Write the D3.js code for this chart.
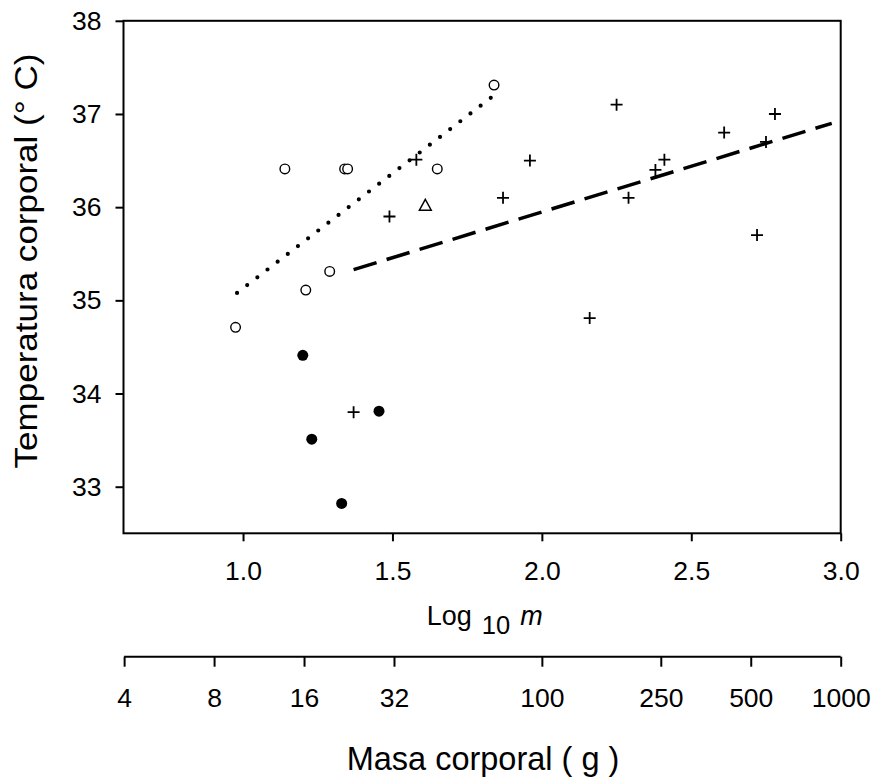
<!DOCTYPE html>
<meta charset="utf-8">
<style>
body { margin: 0; background: #fff; }
text { font-family: "Liberation Sans", Arial, sans-serif; fill: #000; }
.axis line, .axis path { stroke: #000; stroke-width: 2; }
</style>
<svg width="876" height="780"></svg>
<script src="https://cdnjs.cloudflare.com/ajax/libs/d3/7.8.5/d3.min.js"></script>
<script>
// data: [log10 mass, body temperature]
var openCircles = [[0.975, 34.71], [1.14, 36.41], [1.21, 35.11], [1.29, 35.31],
                   [1.34, 36.41], [1.35, 36.41], [1.65, 36.41], [1.84, 37.31]];
var filledCircles = [[1.20, 34.41], [1.23, 33.51], [1.33, 32.82], [1.455, 33.81]];
var triangles = [[1.61, 36.02]];
var crosses = [[1.37, 33.80], [1.49, 35.90], [1.58, 36.51], [1.87, 36.10], [1.96, 36.50],
               [2.16, 34.81], [2.25, 37.10], [2.29, 36.10], [2.38, 36.40], [2.41, 36.51],
               [2.61, 36.80], [2.72, 35.70], [2.75, 36.70], [2.78, 37.00]];
// fitted lines (end points)
var dottedFit = [[0.98, 35.08], [1.84, 37.20]];
var dashedFit = [[1.37, 35.33], [2.97, 36.90]];

var xTicks = [1.0, 1.5, 2.0, 2.5, 3.0];
var yTicks = [33, 34, 35, 36, 37, 38];
var massTicks = [4, 8, 16, 32, 100, 250, 500, 1000];

var svg = d3.select("svg");
var plotLeft = 123.5, plotRight = 840.7, plotTop = 20.8, plotBottom = 533.3;

var x = d3.scaleLinear().domain([0.6, 3.0]).range([plotLeft, plotRight]);
var y = d3.scaleLinear().domain([32.5, 38]).range([plotBottom, plotTop]);
var xm = d3.scaleLog().domain([Math.pow(10, 0.6), 1000]).range([plotLeft, plotRight]);

// frame
svg.append("rect")
  .attr("x", plotLeft).attr("y", plotTop)
  .attr("width", plotRight - plotLeft).attr("height", plotBottom - plotTop)
  .attr("fill", "none").attr("stroke", "#000").attr("stroke-width", 2);

// y axis
var yAxis = svg.append("g").attr("class", "axis")
  .attr("transform", "translate(" + plotLeft + ",0)")
  .call(d3.axisLeft(y).tickValues(yTicks).tickFormat(d3.format("d")).tickSize(8).tickPadding(14));
yAxis.select(".domain").remove();
yAxis.selectAll("text").attr("font-size", 26.5);

// x axis (log10 m)
var xAxis = svg.append("g").attr("class", "axis")
  .attr("transform", "translate(0," + plotBottom + ")")
  .call(d3.axisBottom(x).tickValues(xTicks).tickFormat(d3.format(".1f")).tickSize(8).tickPadding(20));
xAxis.select(".domain").remove();
xAxis.selectAll("text").attr("font-size", 26.5);

// mass axis
var mAxis = svg.append("g").attr("class", "axis")
  .attr("transform", "translate(0,656.7)")
  .call(d3.axisBottom(xm).tickValues(massTicks).tickFormat(d3.format("d")).tickSize(10).tickSizeOuter(0).tickPadding(21));
mAxis.select(".domain").attr("d", "M" + xm(4) + ",0H" + plotRight);
mAxis.selectAll("text").attr("font-size", 26.5);

// axis titles
svg.append("text")
  .attr("transform", "translate(37,261) rotate(-90) scale(1.13,1)")
  .attr("text-anchor", "middle")
  .attr("font-size", 31)
  .text("Temperatura corporal (° C)");

var logLabel = svg.append("text")
  .attr("x", 426.7).attr("y", 625)
  .attr("font-size", 27);
logLabel.append("tspan").text("Log");
logLabel.append("tspan").attr("dx", 10).attr("dy", 9).attr("font-size", 25.5).text("10");
logLabel.append("tspan").attr("dx", 10).attr("dy", -9).attr("font-style", "italic").text("m");

svg.append("text")
  .attr("x", 483).attr("y", 770)
  .attr("text-anchor", "middle")
  .attr("font-size", 32.5)
  .text("Masa corporal ( g )");

// fitted lines
var line = d3.line().x(function(d) { return x(d[0]); }).y(function(d) { return y(d[1]); });

svg.append("path")
  .datum(dottedFit)
  .attr("d", line)
  .attr("fill", "none").attr("stroke", "#000")
  .attr("stroke-width", 4.2)
  .attr("stroke-linecap", "round")
  .attr("stroke-dasharray", "0 12.8");

svg.append("path")
  .datum(dashedFit)
  .attr("d", line)
  .attr("fill", "none").attr("stroke", "#000")
  .attr("stroke-width", 3.5)
  .attr("stroke-dasharray", "24 10.5");

// markers
svg.append("g").selectAll("circle")
  .data(openCircles)
  .enter().append("circle")
  .attr("cx", function(d) { return x(d[0]); })
  .attr("cy", function(d) { return y(d[1]); })
  .attr("r", 4.8)
  .attr("fill", "#fff").attr("stroke", "#000").attr("stroke-width", 1.4);

svg.append("g").selectAll("circle")
  .data(filledCircles)
  .enter().append("circle")
  .attr("cx", function(d) { return x(d[0]); })
  .attr("cy", function(d) { return y(d[1]); })
  .attr("r", 5.5)
  .attr("fill", "#000");

svg.append("g").selectAll("path")
  .data(triangles)
  .enter().append("path")
  .attr("transform", function(d) { return "translate(" + x(d[0]) + "," + y(d[1]) + ")"; })
  .attr("d", "M0,-6L6,5H-6Z")
  .attr("fill", "#fff").attr("stroke", "#000").attr("stroke-width", 1.4);

svg.append("g").selectAll("path")
  .data(crosses)
  .enter().append("path")
  .attr("transform", function(d) { return "translate(" + x(d[0]) + "," + y(d[1]) + ")"; })
  .attr("d", "M-6,0H6M0,-6V6")
  .attr("fill", "none").attr("stroke", "#000").attr("stroke-width", 1.8);
</script>
